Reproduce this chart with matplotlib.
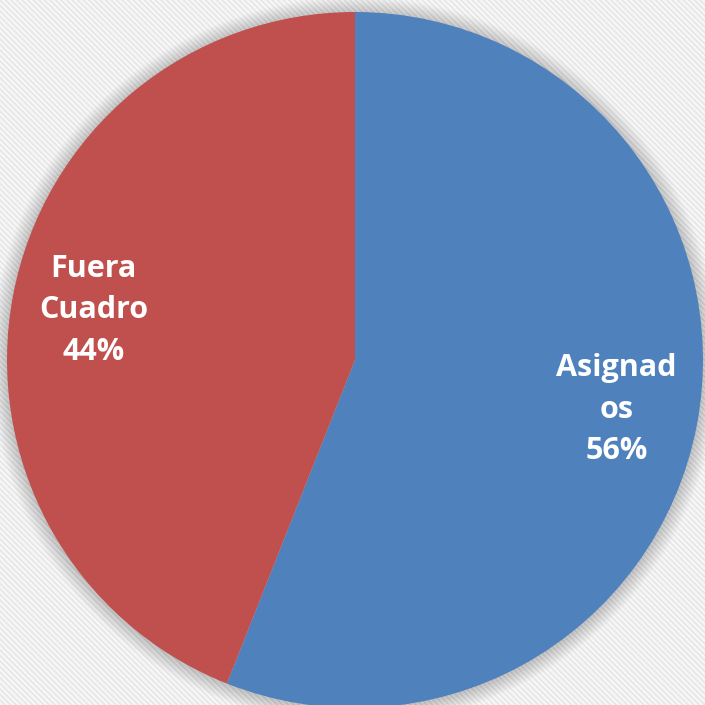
import matplotlib
matplotlib.use("Agg")
import matplotlib.pyplot as plt
from matplotlib.patches import Rectangle, Circle

categories = ["Asignad\nos", "Fuera\nCuadro"]
values = [56, 44]
colors = ["#4F81BD", "#C0504D"]

plt.rcParams['hatch.linewidth'] = 1.2
plt.rcParams['hatch.color'] = '#e4e4e4'

fig = plt.figure(figsize=(7.05, 7.05), dpi=100)
fig.patch.set_facecolor('#f7f7f7')
ax = fig.add_axes([0, 0, 1, 1])
ax.set_xlim(0, 705)
ax.set_ylim(0, 705)
ax.set_aspect('equal')
ax.axis('off')

# textured background
ax.add_patch(Rectangle((0, 0), 705, 705, facecolor='#f7f7f7', edgecolor='#e6e6e6',
                       hatch='\\\\\\\\\\\\', linewidth=0, zorder=0))

cx, cy, r = 355, 345, 348
# soft shadow halo
for i in range(16):
    ax.add_patch(Circle((cx, cy - 1), r + 16 - i, facecolor='black', edgecolor='none',
                        alpha=0.010, zorder=1))

total = sum(values)
labels = [f"{c}\n{round(v / total * 100)}%" for c, v in zip(categories, values)]
wedges, texts = ax.pie(values, colors=colors, startangle=90, counterclock=False,
                       center=(cx, cy), radius=r, labels=labels, labeldistance=0.765,
                       wedgeprops=dict(linewidth=0), frame=True,
                       textprops=dict(color='white', fontsize=22, fontweight='bold',
                                      family='Open Sans', linespacing=1.5))
for w in wedges:
    w.set_zorder(2)
for t in texts:
    t.set_ha('center')
    t.set_va('center')
    t.set_zorder(3)

ax.set_xlim(0, 705)
ax.set_ylim(0, 705)
ax.axis('off')
fig.savefig("out.png", dpi=100, facecolor=fig.get_facecolor())
